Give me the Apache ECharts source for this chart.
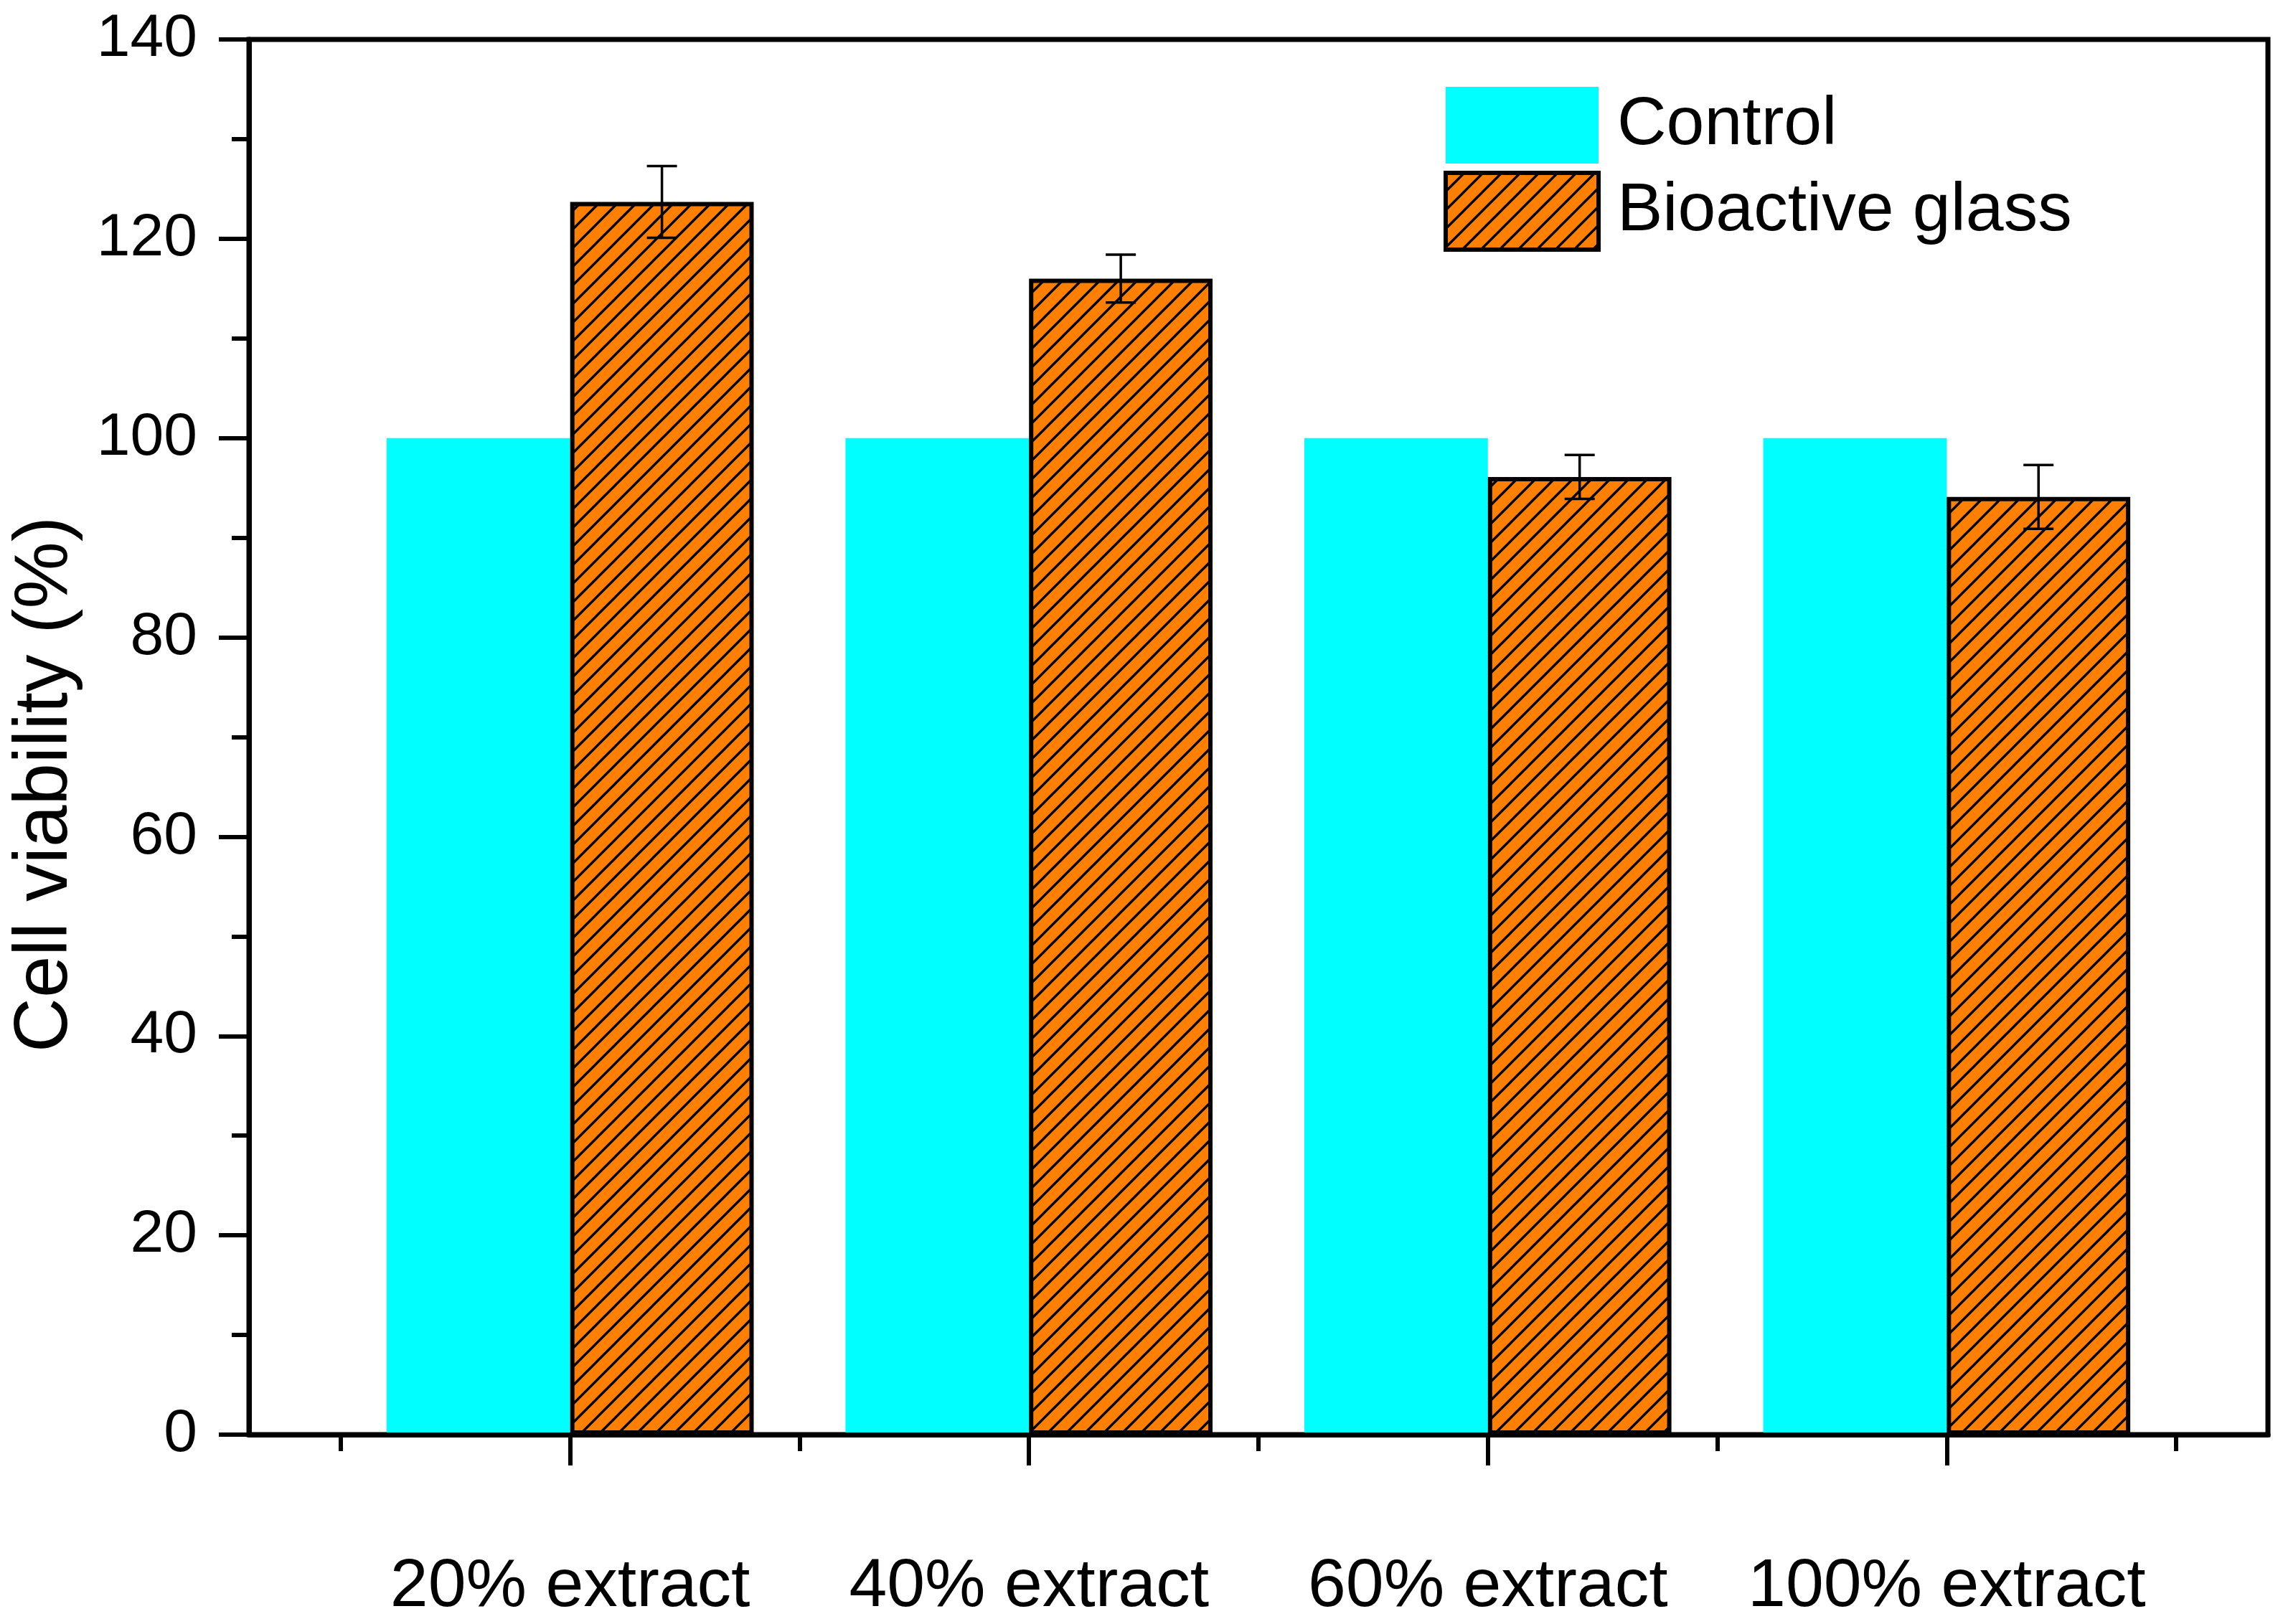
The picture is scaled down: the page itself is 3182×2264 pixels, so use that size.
<!DOCTYPE html>
<html><head><meta charset="utf-8">
<script src="https://cdn.jsdelivr.net/npm/echarts@6/dist/echarts.min.js"></script>
<style>html,body{margin:0;padding:0;background:#fff}#c{width:3182px;height:2264px}</style>
</head><body><div id="c"></div>
<script>
// ---- data ----
const categories = ['20% extract', '40% extract', '60% extract', '100% extract'];
const seriesNames = ['Control', 'Bioactive glass'];
const controlValues = [100, 100, 100, 100];
const glassValues = [123.7, 116.0, 96.1, 94.1];
const glassErrors = [3.6, 2.4, 2.2, 3.2];
const yTickValues = [0, 20, 40, 60, 80, 100, 120, 140];

// ---- style ----
const FONT = "'Liberation Sans', Arial, sans-serif";
const BAR_FRAC = 0.4;

function hatch() {
  const s = 26;
  const c = document.createElement('canvas');
  c.width = s; c.height = s;
  const g = c.getContext('2d');
  g.fillStyle = '#FF8000';
  g.fillRect(0, 0, s, s);
  g.strokeStyle = '#000';
  g.lineWidth = 3.4;
  g.beginPath();
  g.moveTo(-2, s + 2); g.lineTo(s + 2, -2);
  g.moveTo(-3, 3); g.lineTo(3, -3);
  g.moveTo(s - 3, s + 3); g.lineTo(s + 3, s - 3);
  g.stroke();
  return c;
}

const catPos = categories.map((_, i) => i + 1);
const boundPos = categories.concat(['']).map((_, i) => i + 0.5);

const chart = echarts.init(document.getElementById('c'), null, { renderer: 'canvas' });
chart.setOption({
  backgroundColor: '#fff',
  animation: false,
  textStyle: { fontFamily: FONT, color: '#000' },
  grid: { left: 347, right: 21, top: 55, bottom: 264, show: true, borderColor: '#000', borderWidth: 7, backgroundColor: 'transparent' },
  legend: {
    orient: 'vertical', left: 2007, top: 116,
    itemWidth: 213, itemHeight: 107, itemGap: 10,
    textStyle: { fontSize: 95, fontFamily: FONT, color: '#000', padding: [0, 0, 0, 21] },
    data: [
      { name: seriesNames[0], icon: 'rect' },
      { name: seriesNames[1], icon: 'rect', itemStyle: { borderColor: '#000', borderWidth: 6 } }
    ]
  },
  xAxis: [{
    type: 'value', min: 0.3, max: 4.7, z: 5,
    axisLine: { show: true, lineStyle: { color: '#000', width: 7 } },
    axisTick: { show: true, customValues: catPos, length: 43, lineStyle: { color: '#000', width: 6 } },
    axisLabel: { show: true, customValues: catPos, margin: 165, fontSize: 95, fontFamily: FONT, color: '#000',
      formatter: v => categories[Math.round(v) - 1] || '' },
    splitLine: { show: false }
  }, {
    type: 'value', min: 0.3, max: 4.7, position: 'bottom', z: 5,
    axisLine: { show: false },
    axisTick: { show: true, customValues: boundPos, length: 23, lineStyle: { color: '#000', width: 6 } },
    axisLabel: { show: false },
    splitLine: { show: false }
  }],
  yAxis: {
    type: 'value', min: 0, max: 140, interval: 20, z: 5,
    name: 'Cell viability (%)', nameLocation: 'middle', nameGap: 230,
    nameTextStyle: { fontSize: 105, fontFamily: FONT, color: '#000', padding: [0, 132, 0, 0] },
    axisLine: { show: true, lineStyle: { color: '#000', width: 7 } },
    axisTick: { show: true, length: 42, lineStyle: { color: '#000', width: 6 } },
    minorTick: { show: true, splitNumber: 2, length: 24, lineStyle: { color: '#000', width: 6 } },
    axisLabel: { margin: 72, fontSize: 84, fontFamily: FONT, color: '#000',
      formatter: v => yTickValues.indexOf(v) >= 0 ? String(v) : '' },
    splitLine: { show: false }
  },
  series: [{
    name: seriesNames[0], type: 'bar', barWidth: (BAR_FRAC * 100) + '%', barGap: '0%',
    itemStyle: { color: '#00FFFF' },
    data: controlValues.map((v, i) => [catPos[i], v])
  }, {
    name: seriesNames[1], type: 'bar', barWidth: (BAR_FRAC * 100) + '%', barGap: '0%',
    itemStyle: { color: { image: hatch(), repeat: 'repeat' }, borderColor: '#000', borderWidth: 6 },
    data: glassValues.map((v, i) => [catPos[i], v])
  }, {
    name: 'error', type: 'custom', z: 10,
    renderItem: (params, api) => {
      const x = api.value(0), y = api.value(1), e = api.value(2);
      const t = api.coord([x, y + e]), b = api.coord([x, y - e]);
      const hw = 21, st = { stroke: '#000', lineWidth: 3.5 };
      return { type: 'group', children: [
        { type: 'line', shape: { x1: t[0], y1: t[1], x2: b[0], y2: b[1] }, style: st },
        { type: 'line', shape: { x1: t[0] - hw, y1: t[1], x2: t[0] + hw, y2: t[1] }, style: st },
        { type: 'line', shape: { x1: b[0] - hw, y1: b[1], x2: b[0] + hw, y2: b[1] }, style: st }
      ] };
    },
    encode: { x: 0, y: 1 },
    data: glassValues.map((v, i) => [catPos[i] + BAR_FRAC / 2, v, glassErrors[i]])
  }]
});
</script></body></html>
